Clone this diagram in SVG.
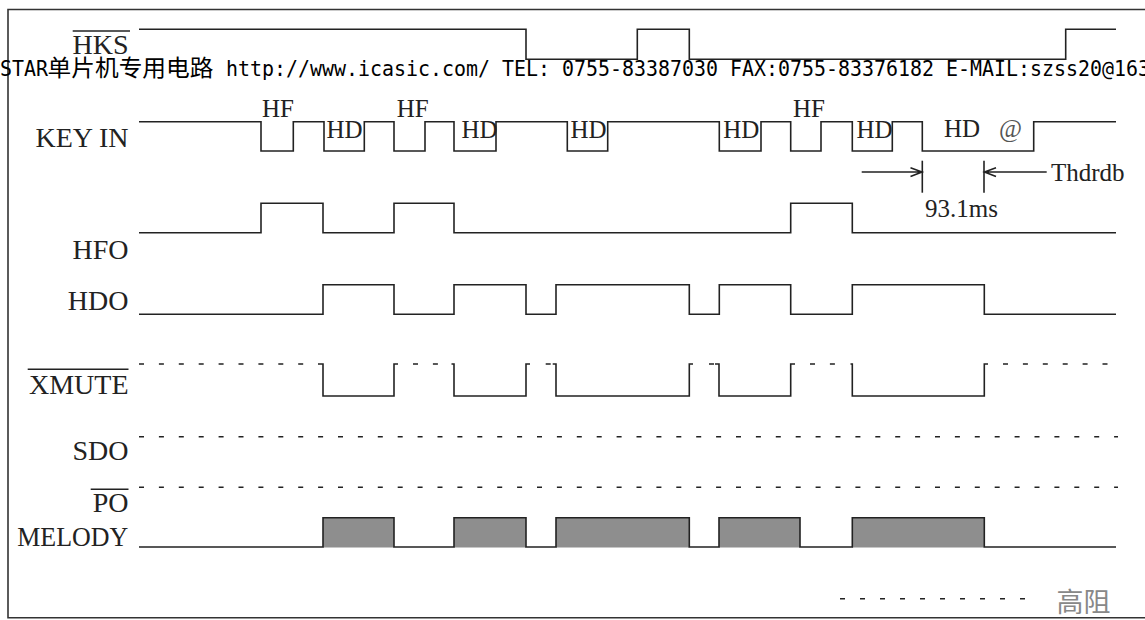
<svg xmlns="http://www.w3.org/2000/svg" width="1145" height="620" viewBox="0 0 1145 620">
<style>
.sig{fill:none;stroke:#222;stroke-width:1.6;stroke-linejoin:miter;stroke-linecap:butt}
.dash{fill:none;stroke:#222;stroke-width:1.6;stroke-dasharray:5 14.9}
.lbl{font-family:"Liberation Serif","Times New Roman",serif;font-size:28px;fill:#222;text-anchor:end}
.sm{font-family:"Liberation Serif","Times New Roman",serif;font-size:25px;fill:#222}
.wm{font-family:"DejaVu Sans Mono","Liberation Mono",monospace;font-size:22px;fill:#000}
.cjk{font-family:"Noto Sans CJK SC",sans-serif;fill:#000}
.ovl{stroke:#222;stroke-width:1.4}
.blk{fill:#8e8e8e;stroke:none}
</style>
<rect x="0" y="0" width="1145" height="620" fill="#fff"/>
<g id="frame"><path d="M1150,9.5 H8 V617.7 H1150" fill="none" stroke="#333" stroke-width="1.6"/></g>

<g id="labels">
  <g id="lbl-hks"><line class="ovl" x1="72.7" y1="31" x2="130" y2="31"/><text class="lbl" x="128.5" y="54">HKS</text></g>
  <g id="lbl-keyin"><text class="lbl" x="128.5" y="147">KEY IN</text></g>
  <g id="lbl-hfo"><text class="lbl" x="128.5" y="259">HFO</text></g>
  <g id="lbl-hdo"><text class="lbl" x="128.5" y="310">HDO</text></g>
  <g id="lbl-xmute"><line class="ovl" x1="27.7" y1="369.3" x2="128.5" y2="369.3"/><text class="lbl" x="128.5" y="394">XMUTE</text></g>
  <g id="lbl-sdo"><text class="lbl" x="128.5" y="460">SDO</text></g>
  <g id="lbl-po"><line class="ovl" x1="90.7" y1="489.3" x2="128.5" y2="489.3"/><text class="lbl" x="128.5" y="512">PO</text></g>
  <g id="lbl-melody"><text class="lbl" x="17.3" y="546" style="text-anchor:start" textLength="111" lengthAdjust="spacingAndGlyphs">MELODY</text></g>
</g>

<g id="signals">
  <path id="sig-hks" class="sig" d="M139,29.3 H526 V59.3 H637.3 V29.3 H689.3 V59.3 H1065.7 V29.3 H1116"/>
  <path id="sig-keyin" class="sig" d="M139,121.7 H261 V151 H293.3 V121.7 H324 V151 H364.3 V121.7 H394 V151 H425 V121.7 H454 V151 H496 V121.7 H567.3 V151 H607.7 V121.7 H719.3 V151 H761 V121.7 H790.7 V151 H821 V121.7 H852.3 V151 H892.3 V121.7 H922.3 V151 H1033.7 V121.7 H1116"/>
  <path id="sig-hfo" class="sig" d="M139,232.7 H261 V203.3 H323 V232.7 H394 V203.3 H454 V232.7 H790.7 V203.3 H852.3 V232.7 H1116"/>
  <path id="sig-hdo" class="sig" d="M139,314.3 H323 V284.7 H394 V314.3 H454 V284.7 H526 V314.3 H556 V284.7 H689.3 V314.3 H719.3 V284.7 H790.7 V314.3 H852.3 V284.7 H984.3 V314.3 H1116"/>
  <g id="sig-xmute">
    <path class="sig" d="M318,364 H323 V396 H394 V364 H398 M451.5,364 H454 V396 H526 V364 H530 M552.7,364 H556 V396 H689.3 V364 H693 M715,364 H719 V396 H790.7 V364 H795 M850.5,364 H852.3 V396 H984.3 V364 H988"/>
    <path class="dash" d="M139,364 H304 M413,364 H438 M545.7,364 H550.7 M709,364 H714 M810,364 H835 M1003,364 H1108"/>
  </g>
  <path id="sig-sdo" class="dash" d="M139,436.7 H1118"/>
  <path id="sig-po" class="dash" d="M139,487.3 H1118"/>
  <g id="sig-melody">
    <rect class="blk" x="323" y="517.7" width="71" height="29.8"/>
    <rect class="blk" x="454" y="517.7" width="72" height="29.8"/>
    <rect class="blk" x="556" y="517.7" width="133.3" height="29.8"/>
    <rect class="blk" x="719" y="517.7" width="81" height="29.8"/>
    <rect class="blk" x="852.3" y="517.7" width="132" height="29.8"/>
    <path class="sig" d="M139,547 H323 V517.7 H394 V547 H454 V517.7 H526 V547 H556 V517.7 H689.3 V547 H719 V517.7 H800 V547 H852.3 V517.7 H984.3 V547 H1116"/>
  </g>
</g>

<g id="pulse-labels">
  <text class="sm" x="262" y="116.7">HF</text>
  <text class="sm" x="396.7" y="116.7">HF</text>
  <text class="sm" x="793" y="116.7">HF</text>
  <text class="sm" x="326.5" y="137.7">HD</text>
  <text class="sm" x="461.5" y="137.7">HD</text>
  <text class="sm" x="570.5" y="137.7">HD</text>
  <text class="sm" x="723.3" y="137.7">HD</text>
  <text class="sm" x="856.5" y="137.7">HD</text>
  <text class="sm" x="944" y="136.7">HD</text>
  <text class="sm" x="999" y="136.7" style="fill:#555">@</text>
</g>

<g id="dimension">
  <line class="sig" x1="922.3" y1="160.7" x2="922.3" y2="192.7"/>
  <line class="sig" x1="984" y1="160.7" x2="984" y2="192.7"/>
  <path class="sig" d="M861.7,172 H922 M910.5,167.8 L922,172 L910.5,176.5"/>
  <path class="sig" d="M1046.7,172 H984.5 M996,167.8 L984.5,172 L996,176.5"/>
  <text class="sm" x="1051" y="180.5">Thdrdb</text>
  <text class="sm" x="925" y="217.3">93.1ms</text>
</g>

<g id="watermark">
  <text class="wm" x="0" y="76" textLength="48" lengthAdjust="spacingAndGlyphs">STAR</text>
  <text class="cjk" x="47.5" y="75.8" font-size="23" textLength="166" lengthAdjust="spacingAndGlyphs">单片机专用电路</text>
  <text class="wm" x="214" y="76" textLength="936" lengthAdjust="spacingAndGlyphs" xml:space="preserve"> http://www.icasic.com/ TEL: 0755-83387030 FAX:0755-83376182 E-MAIL:szss20@163</text>
</g>

<g id="legend">
  <path class="dash" d="M840,598.7 H1025" style="stroke-dasharray:5 15"/>
  <text class="cjk" x="1056.5" y="612" font-size="27" fill="#888" style="fill:#888">高阻</text>
</g>
</svg>
